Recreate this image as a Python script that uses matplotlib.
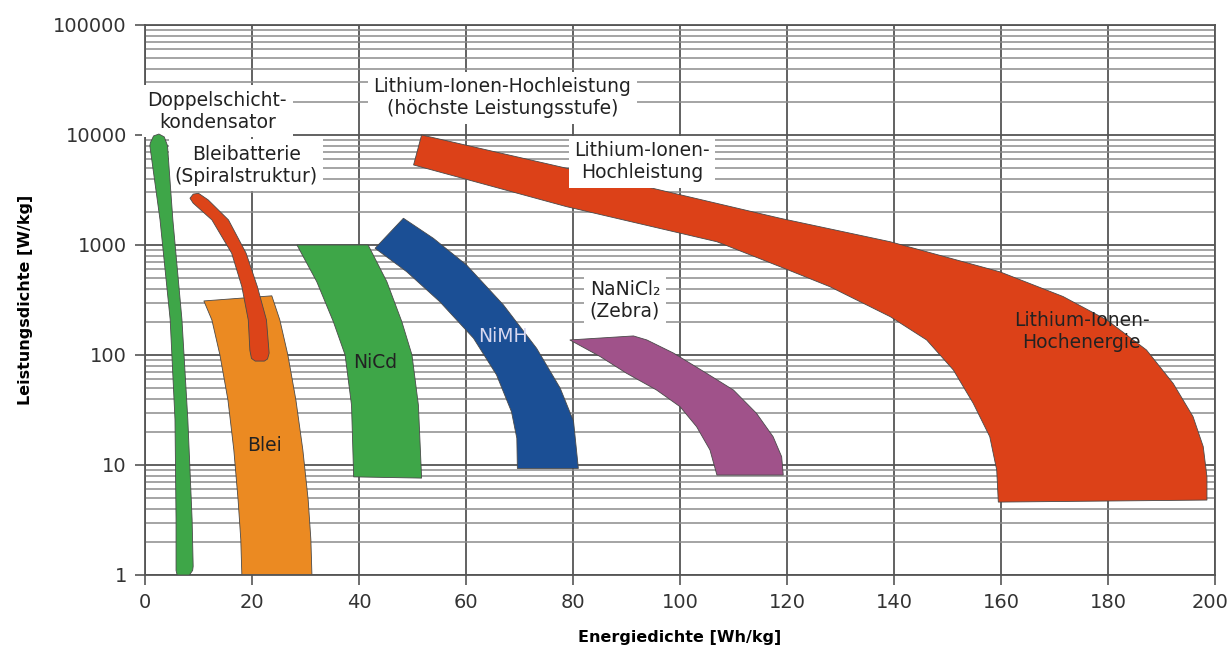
import matplotlib
matplotlib.use('Agg')
import matplotlib.pyplot as plt
import matplotlib.transforms as mtransforms

# outlines of the areas, energy density [Wh/kg] and power density [W/kg]
dsk_x = [1.0, 1.6, 2.6, 3.6, 4.2, 5.2, 6.9, 8.0, 8.8, 9.0, 8.9, 8.3, 6.0, 5.8, 5.8, 5.6, 4.7, 2.8, 0.9]
dsk_y = [8500, 9800, 10200, 9600, 8000, 1700, 210, 26, 3.2, 1.2, 1.1, 1.0, 1.0, 1.1, 3.2, 26, 210, 1700, 8000]

blei_x = [11.0, 23.7, 25.2, 26.7, 28.2, 29.5, 30.5, 31.0, 31.2, 18.1, 17.9, 17.4, 16.6, 15.5, 14.0, 12.5]
blei_y = [310, 345, 208, 100, 39, 13.7, 4.8, 2.1, 1, 1, 2.1, 4.8, 13.7, 39, 100, 208]

spiral_x = [8.4, 9.0, 10.0, 11.8, 15.6, 18.9, 21.0, 22.7, 23.2, 22.9, 22.3, 20.6, 19.9, 19.6, 19.3, 18.1, 16.2, 12.5, 9.0]
spiral_y = [2660, 2900, 2950, 2570, 1690, 841, 418, 208, 104, 92, 88, 88, 93, 110, 208, 418, 841, 1690, 2400]

nicd_x = [28.4, 41.7, 45.2, 48.0, 49.9, 51.1, 51.7, 39.0, 38.6, 37.4, 35.2, 32.1]
nicd_y = [1000, 1000, 464, 201, 100, 35, 7.6, 7.8, 35, 100, 201, 464]

nimh_x = [43.0, 48.3, 53.9, 60.1, 67.0, 73.2, 77.6, 80.1, 81.0, 69.6, 69.5, 68.5, 65.7, 61.4, 55.1, 48.9]
nimh_y = [933, 1750, 1150, 658, 285, 115, 50, 25, 9.3, 9.3, 17.5, 30.5, 66, 142, 305, 572]

zebra_x = [79.4, 91.3, 93.8, 98.8, 105.0, 110.0, 114.3, 117.4, 119.0, 119.3, 106.9, 105.6, 103.1, 100.0, 95.6, 90.0, 85.1]
zebra_y = [137, 149, 137, 104, 68, 48, 29.5, 18.1, 11.9, 8.1, 8.1, 13.7, 22.3, 33.9, 48.1, 68.2, 96.6]

li_x = [51.7, 85.1, 118.7, 139.3, 159.8, 171.6, 179.8, 187.2, 192.2, 195.9, 197.8, 198.5, 198.5,
        159.5, 159.2, 157.9, 154.8, 151.1, 146.1, 139.3, 128.0, 118.7, 106.9, 78.8, 50.2]
li_y = [10000, 4240, 1750, 1070, 570, 340, 208, 111, 55, 27.5, 14.7, 7.8, 4.8,
        4.6, 9.0, 18.1, 36.4, 73, 137, 223, 418, 635, 1070, 2230, 5340]

xticks = [0, 20, 40, 60, 80, 100, 120, 140, 160, 180, 200]
yticks = [1, 10, 100, 1000, 10000, 100000]
ytick_labels = ['1', '10', '100', '1000', '10000', '100000']

fig = plt.figure(figsize=(12.29, 6.52), dpi=100)
ax = fig.add_axes([0.118, 0.1181, 0.8706, 0.8436])
ax.set_yscale('log')
ax.set_xlim(0, 200)
ax.set_ylim(1, 100000)

ax.set_xticks(xticks)
ax.set_xticklabels([str(v) for v in xticks])
ax.set_yticks(yticks)
ax.set_yticklabels(ytick_labels)
ax.tick_params(axis='both', which='major', length=7, width=1.2, color='#555555',
               labelsize=14, labelcolor='#333333', pad=6)
ax.tick_params(axis='y', which='minor', length=0)
ax.set_axisbelow(True)
ax.grid(True, axis='y', which='minor', color='#8c8c8c', lw=1.1)
ax.grid(True, axis='y', which='major', color='#555555', lw=1.3)
ax.grid(True, axis='x', which='major', color='#555555', lw=1.3)
for s in ax.spines.values():
    s.set_color('#555555')
    s.set_linewidth(1.3)

# keep the last x label inside the picture
last = ax.get_xticklabels()[-1]
last.set_transform(last.get_transform() + mtransforms.ScaledTranslation(-5 / 100, 0, fig.dpi_scale_trans))

ec = '#4a4a4a'
ax.fill(blei_x, blei_y, color='#eb8a22', ec=ec, lw=0.6, zorder=2)
ax.fill(spiral_x, spiral_y, color='#dc4419', ec=ec, lw=0.6, zorder=3)
ax.fill(dsk_x, dsk_y, color='#3ea648', ec=ec, lw=0.6, zorder=6)
ax.fill(nicd_x, nicd_y, color='#3ea648', ec=ec, lw=0.6, zorder=2)
ax.fill(nimh_x, nimh_y, color='#1b4f95', ec=ec, lw=0.6, zorder=2)
ax.fill(zebra_x, zebra_y, color='#a0528a', ec=ec, lw=0.6, zorder=2)
ax.fill(li_x, li_y, color='#dc4118', ec=ec, lw=0.6, zorder=2)

box = dict(facecolor='white', edgecolor='none', pad=4)
tk = dict(ha='center', va='center', fontsize=13.5, color='#222222', linespacing=1.2, zorder=5)
ax.text(13.5, 16500, 'Doppelschicht-\nkondensator', bbox=box, **tk)
ax.text(18.9, 5300, 'Bleibatterie\n(Spiralstruktur)', bbox=box, **tk)
ax.text(66.8, 21700, 'Lithium-Ionen-Hochleistung\n(höchste Leistungsstufe)', bbox=box, **tk)
ax.text(92.9, 5700, 'Lithium-Ionen-\nHochleistung', bbox=box, **tk)
ax.text(89.7, 316, 'NaNiCl₂\n(Zebra)', bbox=box, **tk)
ax.text(43.0, 85, 'NiCd', **tk)
ax.text(22.4, 15, 'Blei', **tk)
ax.text(175.1, 165, 'Lithium-Ionen-\nHochenergie', **tk)
ax.text(66.9, 146, 'NiMH', ha='center', va='center', fontsize=13.5, color='#d8d8f0', zorder=5)

ax.set_xlabel('Energiedichte [Wh/kg]', fontsize=11.5, fontweight='bold', labelpad=13)
ax.set_ylabel('Leistungsdichte [W/kg]', fontsize=11.5, fontweight='bold', labelpad=15)

plt.savefig('out.png', dpi=100)
